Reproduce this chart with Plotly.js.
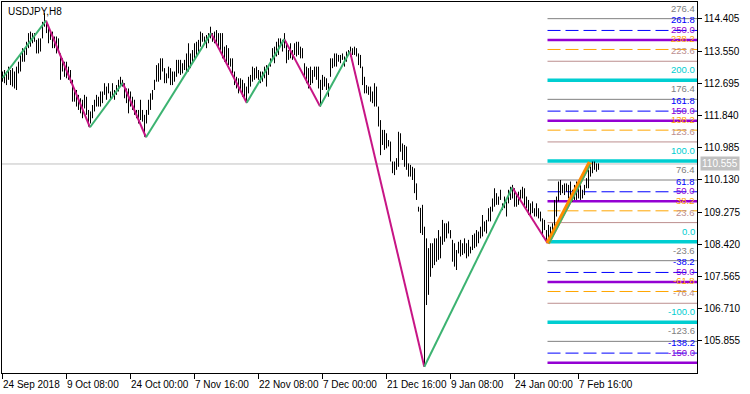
<!DOCTYPE html>
<html><head><meta charset="utf-8">
<script src="https://cdn.plot.ly/plotly-3.0.1.min.js"></script>
<style>html,body{margin:0;padding:0;background:#fff}#chart{width:750px;height:394px}</style>
</head><body><div id="chart"></div>
<script>
const symbolTitle = "USDJPY,H8";

const barHigh = [
113.01,113.05,113.01,113.14,113.05,113.10,113.01,113.14,113.27,113.49,
113.63,113.58,113.80,114.03,114.07,114.03,114.03,113.85,113.89,113.89,
114.33,114.56,114.33,114.25,114.11,114.07,113.94,113.94,113.89,113.49,
113.36,113.27,113.27,113.14,113.05,112.79,112.56,112.52,112.39,112.30,
112.26,112.39,112.34,111.99,111.95,112.12,112.26,112.39,112.34,112.48,
112.48,112.70,112.61,112.70,112.48,112.70,112.52,112.65,112.79,112.87,
112.79,112.70,112.56,112.56,112.48,112.34,112.26,111.99,111.99,112.26,
111.99,111.86,111.99,112.26,112.43,112.52,112.79,113.18,113.23,113.36,
113.36,113.10,112.96,113.14,113.10,113.01,113.01,113.32,113.32,113.32,
113.23,113.32,113.49,113.76,113.49,113.58,113.76,113.80,113.85,114.07,
114.03,113.94,113.98,114.03,114.20,114.03,114.07,114.11,114.03,114.03,
114.03,113.67,113.71,113.63,113.36,113.36,113.01,112.87,112.83,112.83,
112.79,112.70,112.61,112.87,112.92,113.14,113.10,113.14,113.05,113.01,
113.01,113.14,113.18,113.18,113.36,113.63,113.67,113.80,113.89,113.89,
113.85,114.03,113.80,113.58,113.76,113.58,113.76,113.80,113.80,113.67,
113.63,113.23,113.14,113.10,113.14,113.05,113.14,113.14,113.14,112.79,
112.92,112.87,112.83,112.70,113.36,113.36,113.49,113.49,113.45,113.45,
113.49,113.41,113.54,113.58,113.67,113.63,113.67,113.63,113.49,113.45,
113.14,112.87,112.65,112.61,112.61,112.48,112.70,112.61,112.08,111.72,
111.46,111.46,111.37,111.19,111.15,110.62,110.62,110.71,111.41,111.37,
111.10,111.06,111.02,110.57,110.53,110.48,110.44,110.04,109.42,109.39,
109.47,108.89,108.58,108.32,108.45,108.45,108.58,108.58,108.80,108.63,
109.07,108.98,108.98,109.03,108.80,108.54,108.45,108.27,108.49,108.54,
108.45,108.58,108.45,108.54,108.36,108.67,108.71,108.80,108.76,108.89,
109.20,109.03,109.07,109.38,109.42,109.64,109.91,109.78,109.69,109.87,
109.51,109.69,109.56,109.87,109.95,110.00,109.91,109.78,109.82,109.87,
109.95,109.91,109.69,109.60,109.51,109.56,109.38,109.51,109.38,109.29,
109.11,109.07,108.80,108.94,108.89,108.98,109.60,109.69,110.09,110.13,
110.00,110.04,110.04,110.00,110.09,109.87,110.00,110.09,109.95,110.00,
109.87,110.00,110.18,110.40,110.49,110.62,110.62,110.57,110.57
];
const barLow = [
112.74,112.70,112.65,112.79,112.65,112.61,112.56,112.52,112.96,113.01,
113.27,113.27,113.45,113.63,113.67,113.76,113.80,113.49,113.49,113.54,
113.89,114.20,114.03,113.76,113.85,113.63,113.63,113.49,113.58,112.79,
113.01,112.87,112.83,112.79,112.70,112.21,112.21,112.08,111.99,111.90,
111.77,112.03,111.86,111.55,111.63,111.77,111.95,112.08,112.08,112.08,
112.17,112.39,112.26,112.43,112.26,112.30,112.26,112.39,112.48,112.61,
112.61,112.30,112.17,111.90,112.08,111.99,111.86,111.77,111.63,111.72,
111.68,111.28,111.63,111.86,111.99,112.26,112.52,112.74,112.74,112.79,
113.01,112.70,112.70,112.83,112.65,112.65,112.74,112.87,112.96,112.92,
112.96,113.05,113.01,113.01,113.10,113.23,113.32,113.45,113.49,113.67,
113.80,113.76,113.63,113.76,113.89,113.80,113.76,113.71,113.67,113.58,
113.36,113.27,113.23,113.18,113.14,112.96,112.65,112.56,112.43,112.48,
112.34,112.26,112.17,112.43,112.61,112.74,112.79,112.83,112.79,112.70,
112.74,112.83,112.61,112.92,113.14,113.32,113.23,113.41,113.45,113.71,
113.54,113.63,113.23,113.32,113.36,113.32,113.45,113.41,113.45,113.36,
113.36,112.87,112.70,112.56,112.65,112.70,112.87,112.79,112.56,112.08,
112.52,112.61,112.52,112.34,112.87,113.10,113.14,113.14,113.27,113.23,
113.32,113.14,113.27,113.45,113.41,113.45,113.45,113.41,113.18,113.10,
112.65,112.43,112.43,112.39,112.21,112.17,112.08,112.08,111.55,110.79,
111.06,110.93,110.97,111.02,110.62,110.31,110.26,110.40,110.48,110.88,
110.66,110.48,110.40,110.22,110.22,110.13,109.78,109.60,109.29,108.72,
108.67,105.17,106.81,107.08,107.56,107.79,107.87,107.96,108.01,108.05,
108.41,108.49,108.58,108.71,108.58,107.96,107.83,107.74,108.18,108.10,
108.14,108.18,108.05,108.10,108.18,108.27,108.32,108.36,108.45,108.58,
108.63,108.76,108.71,109.03,109.03,109.29,109.42,109.47,109.47,109.60,
109.33,109.38,109.16,109.51,109.60,109.64,109.42,109.42,109.47,109.60,
109.64,109.42,109.38,109.20,109.16,109.25,109.16,109.16,109.11,109.03,
108.63,108.80,108.54,108.45,108.49,108.72,108.80,109.16,109.56,109.73,
109.78,109.73,109.82,109.64,109.56,109.56,109.60,109.60,109.64,109.60,
109.64,109.73,109.91,109.91,110.22,110.31,110.40,110.35,110.40
];

const dateTickBars = [0, 32, 64, 96, 128, 160, 192, 224, 256, 288];
const dateTickText = ["24 Sep 2018", "9 Oct 08:00", "24 Oct 00:00", "7 Nov 16:00", "22 Nov 08:00",
                      "7 Dec 00:00", "21 Dec 16:00", "9 Jan 08:00", "24 Jan 00:00", "7 Feb 16:00"];
const priceTicks = [114.405, 113.550, 112.695, 111.840, 110.985, 110.130, 109.275, 108.420, 107.565, 106.710, 105.855];

const zigzagBar   = [0, 21.75, 43.75, 60.1, 71.75, 104.25, 122.1, 140.9, 158.75, 173.75, 210.9, 254.9, 272.6];
const zigzagPrice = [112.84, 114.36, 111.53, 112.71, 111.265, 114.03, 112.18, 113.87, 112.09, 113.54, 105.17, 109.93, 108.45];
const lastLegBar   = [272.6, 293.75];
const lastLegPrice = [108.45, 110.60];

const fibLevels = [276.4, 261.8, 250, 238.2, 223.6, 200, 176.4, 161.8, 150, 138.2, 123.6, 100,
                   76.4, 61.8, 50, 38.2, 23.6, 0, -23.6, -38.2, -50, -61.8, -76.4, -100, -123.6, -138.2, -150];
const fibZeroPrice = 108.493;
const fibHundredPrice = 110.635;
const fibStartBar = 272.5;
const currentPrice = 110.555;

const FONT = "'Liberation Sans', Arial, sans-serif";
const FS = 10;
const FS_FIB = 9.5;
const X_END = 347.25;

const styles = {
  0:    {color:'#00CED1', width:3.5, dash:'solid'},
  23.6: {color:'#BC8F8F', width:1,   dash:'solid'},
  38.2: {color:'#FFA500', width:1,   dash:'13px,5px'},
  50:   {color:'#9400D3', width:2.5, dash:'solid'},
  61.8: {color:'#0000FF', width:1,   dash:'13px,5px'},
  76.4: {color:'#808080', width:1,   dash:'solid'}
};
function styleOf(level){
  let r = ((level % 100) + 100) % 100;
  r = Math.round(r*10)/10;
  return styles[r];
}

const traces = [];
traces.push({x:[-0.25, X_END], y:[currentPrice, currentPrice], mode:'lines', line:{color:'#C0C0C0', width:1}, hoverinfo:'skip'});

const annotations = [];
fibLevels.forEach(lv => {
  const p = fibZeroPrice + lv/100*(fibHundredPrice - fibZeroPrice);
  const st = styleOf(lv);
  traces.push({x:[fibStartBar, X_END], y:[p, p], mode:'lines', line:{color:st.color, width:st.width, dash:st.dash}, hoverinfo:'skip'});
  annotations.push({xref:'paper', x:1, xanchor:'right', xshift:-1, yref:'y', y:p, yanchor:'bottom', yshift:4,
    text:lv.toFixed(1), showarrow:false, font:{family:FONT, size:FS_FIB, color:st.color}, borderpad:0});
});

const bx = [], by = [];
for (let i = 0; i < barHigh.length; i++) {
  bx.push(i, i, null); by.push(barLow[i], barHigh[i], null);
}
traces.push({x:bx, y:by, mode:'lines', line:{color:'#000', width:1}, hoverinfo:'skip'});

const gx = [], gy = [], mx = [], my = [];
for (let k = 0; k < zigzagBar.length - 1; k++) {
  const up = zigzagPrice[k+1] > zigzagPrice[k];
  const ax = up ? gx : mx, ay = up ? gy : my;
  ax.push(zigzagBar[k], zigzagBar[k+1], null);
  ay.push(zigzagPrice[k], zigzagPrice[k+1], null);
}
traces.push({x:mx, y:my, mode:'lines', line:{color:'#C71585', width:2}, hoverinfo:'skip'});
traces.push({x:gx, y:gy, mode:'lines', line:{color:'#3CB371', width:2}, hoverinfo:'skip'});
traces.push({x:lastLegBar, y:lastLegPrice, mode:'lines', line:{color:'#FF8C00', width:4.5}, hoverinfo:'skip'});
traces.push({x:[lastLegBar[0]+0.8, lastLegBar[1]+0.3], y:[lastLegPrice[0], lastLegPrice[1]-0.05], mode:'lines', line:{color:'#3CB371', width:1.5}, hoverinfo:'skip'});

dateTickBars.forEach((b, k) => {
  annotations.push({xref:'x', x:b, xanchor:'left', xshift:-1, yref:'paper', y:0, yanchor:'top', yshift:-5,
    text:dateTickText[k], showarrow:false, borderpad:0, font:{family:FONT, size:FS, color:'#000'}});
});

annotations.push({xref:'paper', x:0, xanchor:'left', xshift:4, yref:'paper', y:1, yanchor:'top', yshift:-2,
  text:symbolTitle, showarrow:false, font:{family:FONT, size:FS, color:'#000'}});
annotations.push({xref:'paper', x:1, xanchor:'left', xshift:3, yref:'y', y:currentPrice, yanchor:'middle',
  text:currentPrice.toFixed(3), showarrow:false, bgcolor:'#C0C0C0', borderpad:1, font:{family:FONT, size:FS, color:'#fff'}});

const layout = {
  width:750, height:394,
  margin:{l:2, r:53, t:2, b:21, pad:0},
  paper_bgcolor:'#fff', plot_bgcolor:'#fff',
  showlegend:false,
  font:{family:FONT, size:FS, color:'#000'},
  xaxis:{range:[-0.25, X_END], tickmode:'array', tickvals:dateTickBars, showticklabels:false,
    ticks:'outside', ticklen:5, tickcolor:'#000', tickwidth:1,
    showline:true, linecolor:'#000', linewidth:1, mirror:true, showgrid:false, zeroline:false,
    fixedrange:true},
  yaxis:{range:[105.005, 114.856], side:'right', tickmode:'array', tickvals:priceTicks,
    ticktext:priceTicks.map(v => v.toFixed(3)),
    ticks:'outside', ticklen:4, tickcolor:'#000', tickwidth:1,
    showline:true, linecolor:'#000', linewidth:1, mirror:true, showgrid:false, zeroline:false,
    tickfont:{family:FONT, size:FS, color:'#000'}, fixedrange:true},
  annotations:annotations
};
Plotly.newPlot('chart', traces, layout, {staticPlot:true, displayModeBar:false});
</script>
</body></html>
